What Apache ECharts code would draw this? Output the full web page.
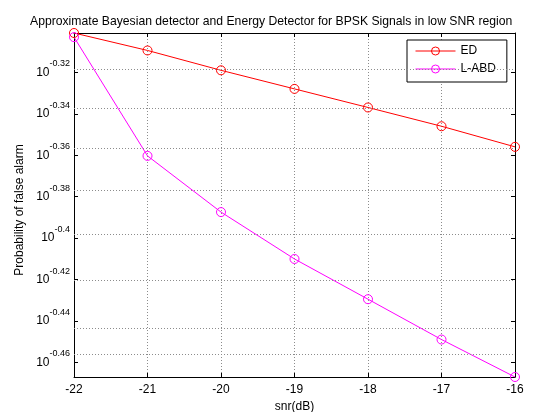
<!DOCTYPE html>
<html>
<head>
<meta charset="utf-8">
<script src="https://cdn.jsdelivr.net/npm/echarts@6/dist/echarts.min.js"></script>
<style>
  html, body { margin: 0; padding: 0; background: #fff; }
  #chart { width: 557px; height: 412px; }
</style>
</head>
<body>
<div id="chart"></div>
<script>
const snr = [-22, -21, -20, -19, -18, -17, -16];
const pfaED = [0.5000, 0.4904, 0.4797, 0.4699, 0.4603, 0.4508, 0.4406];
const pfaLABD = [0.4977, 0.4362, 0.4098, 0.3890, 0.3720, 0.3557, 0.3412];
const yTickExp = [-0.46, -0.44, -0.42, -0.40, -0.38, -0.36, -0.34, -0.32];

const font = 'Liberation Sans';
const yTicks = yTickExp.map(e => Math.pow(10, e));
const yMin = Math.min(...pfaLABD);
const yMax = Math.max(...pfaED);

const chart = echarts.init(document.getElementById('chart'), null, { renderer: 'canvas' });

const pairs = (ys) => snr.map((x, i) => [x, ys[i]]);

const expLabel = (v) => {
  const e = +Math.log10(v).toFixed(2);
  return '{b|10}{s|' + e + '}';
};

const gridLine = { color: '#8c8c8c', type: [1, 2], width: 1 };

const option = {
  animation: false,
  backgroundColor: '#fff',
  title: {
    text: 'Approximate Bayesian detector and Energy Detector for BPSK Signals in low SNR region',
    left: 25,
    top: 11,
    textStyle: { fontFamily: font, fontSize: 12.2, fontWeight: 'normal', color: '#000' }
  },
  legend: {
    orient: 'vertical',
    left: 407,
    top: 40,
    padding: [5, 11, 7, 8],
    itemGap: 6,
    itemWidth: 40,
    itemHeight: 10,
    borderColor: '#000',
    borderWidth: 1,
    backgroundColor: '#fff',
    itemStyle: { borderWidth: 1, color: 'rgba(0,0,0,0)' },
    lineStyle: { width: 1 },
    textStyle: { fontFamily: font, fontSize: 12, color: '#000' },
    data: ['ED', 'L-ABD']
  },
  grid: { left: 74, right: 42, top: 33, bottom: 35, outerBoundsMode: 'none', containLabel: false },
  xAxis: [{
    type: 'value',
    min: -22,
    max: -16,
    interval: 1,
    name: 'snr(dB)',
    nameLocation: 'middle',
    nameGap: 23,
    nameTextStyle: { fontFamily: font, fontSize: 12, color: '#000' },
    axisLine: { onZero: false, lineStyle: { color: '#000', width: 1 } },
    axisTick: { inside: true, length: 4, lineStyle: { color: '#000' } },
    axisLabel: { fontFamily: font, fontSize: 12, color: '#000', margin: 7 },
    splitLine: { show: true, lineStyle: gridLine }
  }, {
    type: 'value',
    position: 'top',
    min: -22,
    max: -16,
    interval: 1,
    axisLine: { onZero: false, lineStyle: { color: '#000', width: 1 } },
    axisTick: { inside: true, length: 4, lineStyle: { color: '#000' } },
    axisLabel: { show: false },
    splitLine: { show: false }
  }],
  yAxis: [{
    type: 'log',
    logBase: 10,
    min: yMin,
    max: yMax,
    name: 'Probability of false alarm',
    nameLocation: 'middle',
    nameGap: 43,
    nameTextStyle: { fontFamily: font, fontSize: 12, color: '#000', padding: [0, 10, 0, 0] },
    axisLine: { show: true, lineStyle: { color: '#000', width: 1 } },
    axisTick: { show: true, inside: true, length: 4, customValues: yTicks, lineStyle: { color: '#000' } },
    axisLabel: {
      customValues: yTicks,
      margin: 4,
      formatter: expLabel,
      rich: {
        b: { fontFamily: font, fontSize: 12, color: '#000', lineHeight: 26 },
        s: { fontFamily: font, fontSize: 9, color: '#000', lineHeight: 12, verticalAlign: 'top' }
      }
    },
    splitLine: { show: false }
  }, {
    type: 'log',
    logBase: 10,
    min: yMin,
    max: yMax,
    position: 'right',
    axisLine: { show: true, lineStyle: { color: '#000', width: 1 } },
    axisTick: { show: true, inside: true, length: 4, customValues: yTicks, lineStyle: { color: '#000' } },
    axisLabel: { show: false },
    splitLine: { show: false }
  }],
  series: [{
    name: 'ED',
    type: 'line',
    data: pairs(pfaED),
    symbol: 'circle',
    symbolSize: 9,
    lineStyle: { color: '#ff0000', width: 1 },
    itemStyle: { color: 'rgba(0,0,0,0)', borderColor: '#ff0000', borderWidth: 1 },
    markLine: {
      silent: true,
      symbol: 'none',
      label: { show: false },
      lineStyle: gridLine,
      data: yTicks.map(v => ({ yAxis: v }))
    },
    z: 3
  }, {
    name: 'L-ABD',
    type: 'line',
    data: pairs(pfaLABD),
    symbol: 'circle',
    symbolSize: 9,
    lineStyle: { color: '#ff00ff', width: 1 },
    itemStyle: { color: 'rgba(0,0,0,0)', borderColor: '#ff00ff', borderWidth: 1 },
    z: 3
  }]
};

chart.setOption(option);
</script>
</body>
</html>
